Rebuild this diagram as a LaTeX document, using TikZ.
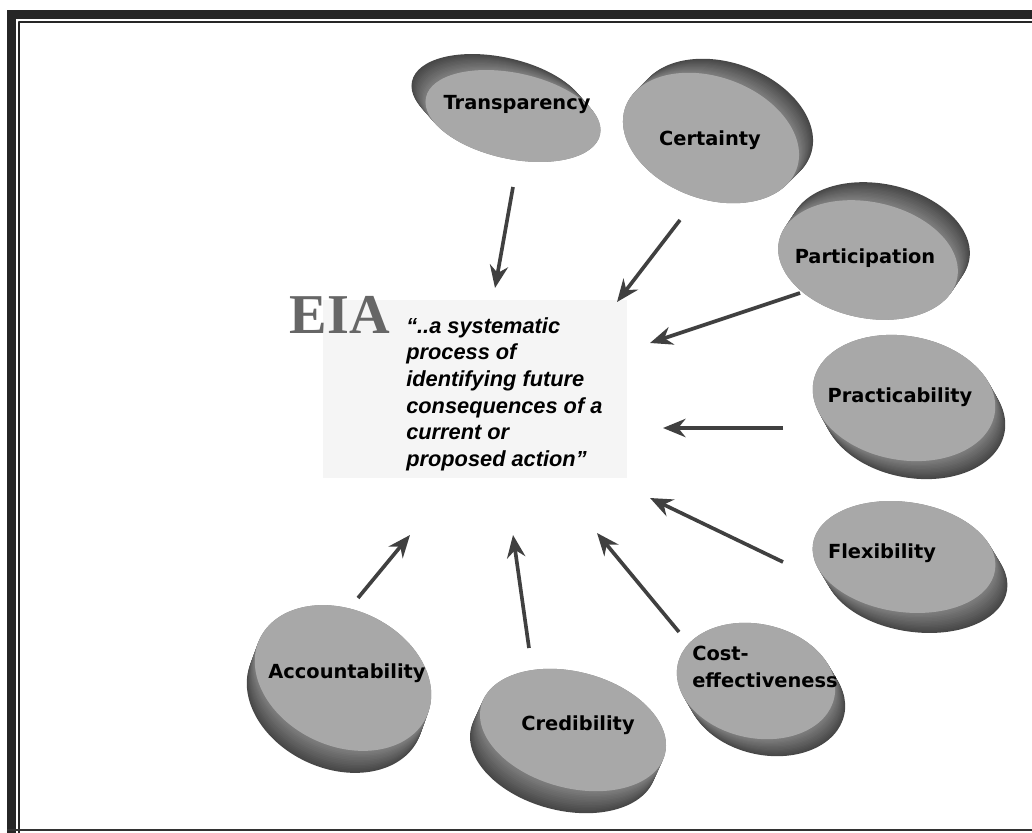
\documentclass[tikz,border=0pt]{standalone}
\usepackage{fontspec}
\newfontfamily\lblfont{DejaVu Sans}
\newfontfamily\quotefont{Liberation Sans}
\newfontfamily\eiafont{Liberation Serif}
\usetikzlibrary{arrows.meta}
\tikzset{lbl/.style={font=\lblfont\bfseries\fontsize{13.8}{19}\selectfont,inner sep=0pt},
  quote/.style={font=\quotefont\bfseries\itshape\fontsize{15.5}{19}\selectfont,align=left,inner sep=0pt},
  arr/.style={-{Stealth[length=16pt,width=13pt]},line width=2.6pt,draw=black!75}}
\colorlet{facegray}{black!34}
% disc: cx, cy, x radius, y radius, angle, rim dx, rim dy
\newcommand{\drawdisc}[7]{%
  \foreach \k in {0,...,14}{%
    \pgfmathsetmacro{\discf}{1-\k/14}%
    \pgfmathsetmacro{\discg}{50+22*\discf}%
    \fill[black!\discg,rotate around={#5:(#1+#6*\discf,#2+#7*\discf)}] (#1+#6*\discf,#2+#7*\discf) ellipse [x radius=#3,y radius=#4];}%
  \fill[facegray,rotate around={#5:(#1,#2)}] (#1,#2) ellipse [x radius=#3,y radius=#4];}

\begin{document}
\begin{tikzpicture}[x=0.025cm,y=-0.025cm,line join=round]
\useasboundingbox (0,0) rectangle (1032,833);
% --- definition box
\fill[black!4] (323,300) rectangle (627,478);
\node[font=\eiafont\bfseries\fontsize{40}{40}\selectfont,text=black!60,inner sep=0pt] (eia) at (340,315) {EIA};
\node[quote,anchor=north west] (def) at (406,317) {“..a systematic\\process of\\identifying future\\consequences of a\\current or\\proposed action”};
% --- discs
\drawdisc{513}{116}{89}{43}{-12}{-14}{-16}
\drawdisc{711}{138}{91}{61}{-20}{14}{-14}
\drawdisc{868}{260}{91}{58}{-12}{12}{-18}
\drawdisc{904}{398}{92}{62}{-10}{10}{18}
\drawdisc{904}{557}{92}{55}{-8}{12}{20}
\drawdisc{756}{681}{80}{57}{-12}{10}{17}
\drawdisc{573}{730}{95}{58}{-15}{-10}{22}
\drawdisc{343}{678}{92}{68}{-25}{-8}{22}
\node[lbl] (tra) at (517,105) {Transparency};
\node[lbl] (cer) at (710,140) {Certainty};
\node[lbl] (par) at (865,258) {Participation};
\node[lbl] (pra) at (900,397) {Practicability};
\node[lbl] (fle) at (882,553) {Flexibility};
\node[lbl,align=left,anchor=north west] (cos) at (692,646) {Cost-\\effectiveness};
\node[lbl] (cre) at (578,725) {Credibility};
\node[lbl] (acc) at (347,673) {Accountability};
% --- arrows into the definition
\coordinate (traA) at (513,187); \coordinate (traB) at (495,288);
\coordinate (cerA) at (680,220); \coordinate (cerB) at (617,302);
\coordinate (parA) at (800,293); \coordinate (parB) at (650,343);
\coordinate (praA) at (783,428); \coordinate (praB) at (663,428);
\coordinate (fleA) at (783,562); \coordinate (fleB) at (650,498);
\coordinate (cosA) at (679,632); \coordinate (cosB) at (597,533);
\coordinate (creA) at (529,648); \coordinate (creB) at (513,535);
\coordinate (accA) at (358,598); \coordinate (accB) at (410,535);
\foreach \n in {tra,cer,par,pra,fle,cos,cre,acc} \draw[arr] (\n A) -- (\n B);
% --- frame
\fill[black!85] (7,10) rectangle (1032,19);
\fill[black!85] (7,10) rectangle (16,833);
\draw[black!85,line width=1.2pt] (19,833) |- (1032,22);
\draw[black!80,line width=1.4pt] (7,830) -- (1032,830);
\end{tikzpicture}
\end{document}
